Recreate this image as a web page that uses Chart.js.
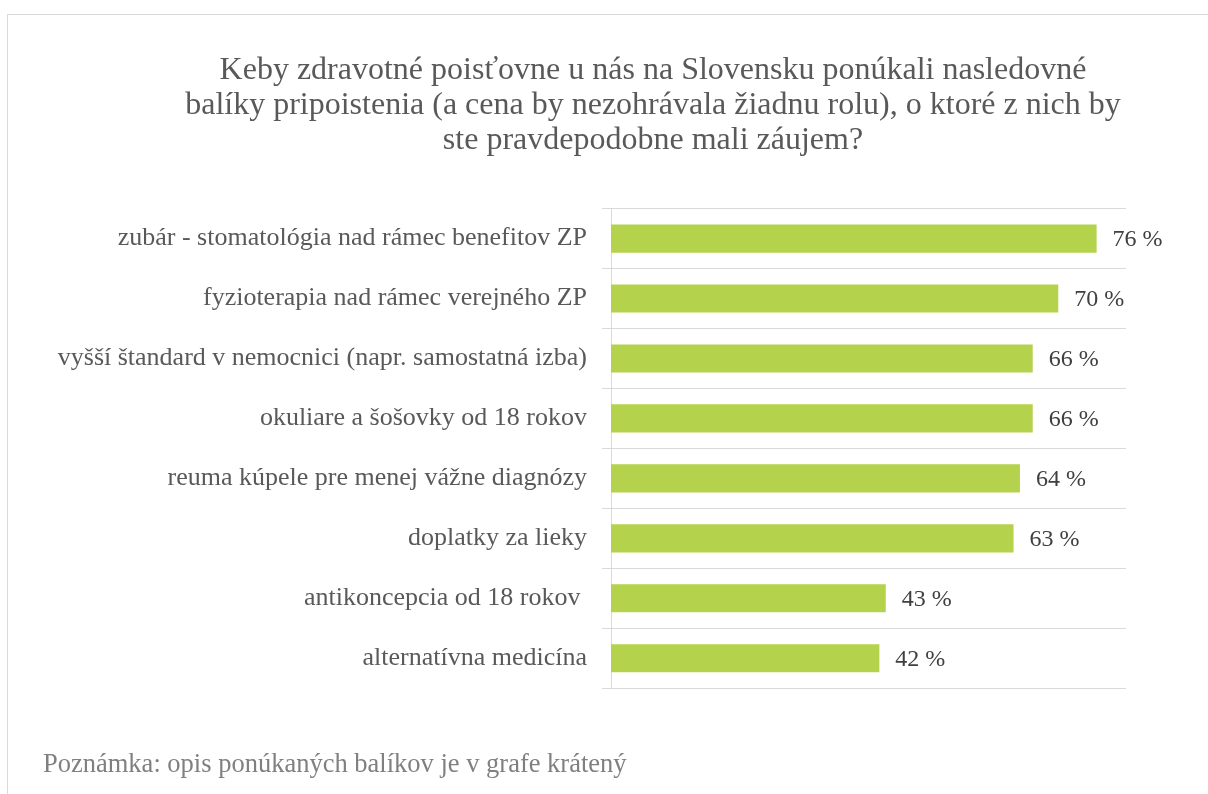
<!DOCTYPE html>
<html lang="sk">
<head>
<meta charset="UTF-8">
<title>Pripoistenie</title>
<script src="https://cdn.jsdelivr.net/npm/chart.js"></script>
<style>
    html, body { margin: 0; padding: 0; background: #fff; overflow: hidden; }
    #box {
        position: absolute; left: 7px; top: 14px;
        width: 1255px; height: 780px;
        border-left: 1px solid #d9d9d9; border-top: 1px solid #d9d9d9;
    }
</style>
</head>
<body>
<div id="box"><canvas id="graf" width="1255" height="780"></canvas></div>
<script>
    var kategorie = [
        'zubár - stomatológia nad rámec benefitov ZP',
        'fyzioterapia nad rámec verejného ZP',
        'vyšší štandard v nemocnici (napr. samostatná izba)',
        'okuliare a šošovky od 18 rokov',
        'reuma kúpele pre menej vážne diagnózy',
        'doplatky za lieky',
        'antikoncepcia od 18 rokov ',
        'alternatívna medicína'
    ];
    var hodnoty = [76, 70, 66, 66, 64, 63, 43, 42];

    var titulok = [
        'Keby zdravotné poisťovne u nás na Slovensku ponúkali nasledovné',
        'balíky pripoistenia (a cena by nezohrávala žiadnu rolu), o ktoré z nich by',
        'ste pravdepodobne mali záujem?'
    ];
    var poznamka = 'Poznámka: opis ponúkaných balíkov je v grafe krátený';

    var PISMO = '"Liberation Serif", "Times New Roman", serif';

    // popisky hodnot za koncom stlpcov
    const popisky = {
        id: 'popisky',
        afterDatasetsDraw(chart) {
            const ctx = chart.ctx;
            const meta = chart.getDatasetMeta(0);
            ctx.save();
            ctx.font = '24px ' + PISMO;
            ctx.fillStyle = '#404040';
            ctx.textBaseline = 'middle';
            ctx.textAlign = 'left';
            meta.data.forEach((bar, i) => {
                ctx.fillText(hodnoty[i] + ' %', bar.x + 16, bar.y + 1);
            });
            ctx.restore();
        }
    };

    const canvas = document.getElementById('graf');
    new Chart(canvas, {
        type: 'bar',
        data: {
            labels: kategorie,
            datasets: [{
                data: hodnoty,
                backgroundColor: '#b4d24b',
                categoryPercentage: 1,
                barPercentage: 0.47
            }]
        },
        options: {
            indexAxis: 'y',
            responsive: false,
            animation: false,
            layout: { padding: { left: 35, right: 0, top: 0, bottom: 14 } },
            scales: {
                x: {
                    display: false,
                    min: 0,
                    max: 80.6
                },
                y: {
                    afterFit: function (scale) { scale.width = 568; },
                    grid: {
                        color: '#d9d9d9',
                        tickLength: 9,
                        lineWidth: 1
                    },
                    border: { color: '#d9d9d9' },
                    ticks: {
                        padding: 15,
                        color: '#595959',
                        font: { family: PISMO, size: 26 }
                    }
                },
                // prazdna os vpravo, miesto pre popisky
                vpravo: {
                    type: 'linear',
                    position: 'right',
                    afterFit: function (scale) { scale.width = 137; },
                    grid: { display: false },
                    border: { display: false },
                    ticks: { display: false }
                }
            },
            plugins: {
                legend: { display: false },
                tooltip: { enabled: false },
                title: {
                    display: true,
                    text: titulok,
                    color: '#595959',
                    font: { family: PISMO, size: 32, weight: 'normal', lineHeight: 1.1 },
                    padding: { top: 38, bottom: 50 }
                },
                subtitle: {
                    display: true,
                    text: poznamka,
                    position: 'bottom',
                    align: 'start',
                    color: '#808080',
                    font: { family: PISMO, size: 26.5, weight: 'normal', lineHeight: 1.2 },
                    padding: { top: 61, bottom: 0 }
                }
            }
        },
        plugins: [popisky]
    });
</script>
</body>
</html>
